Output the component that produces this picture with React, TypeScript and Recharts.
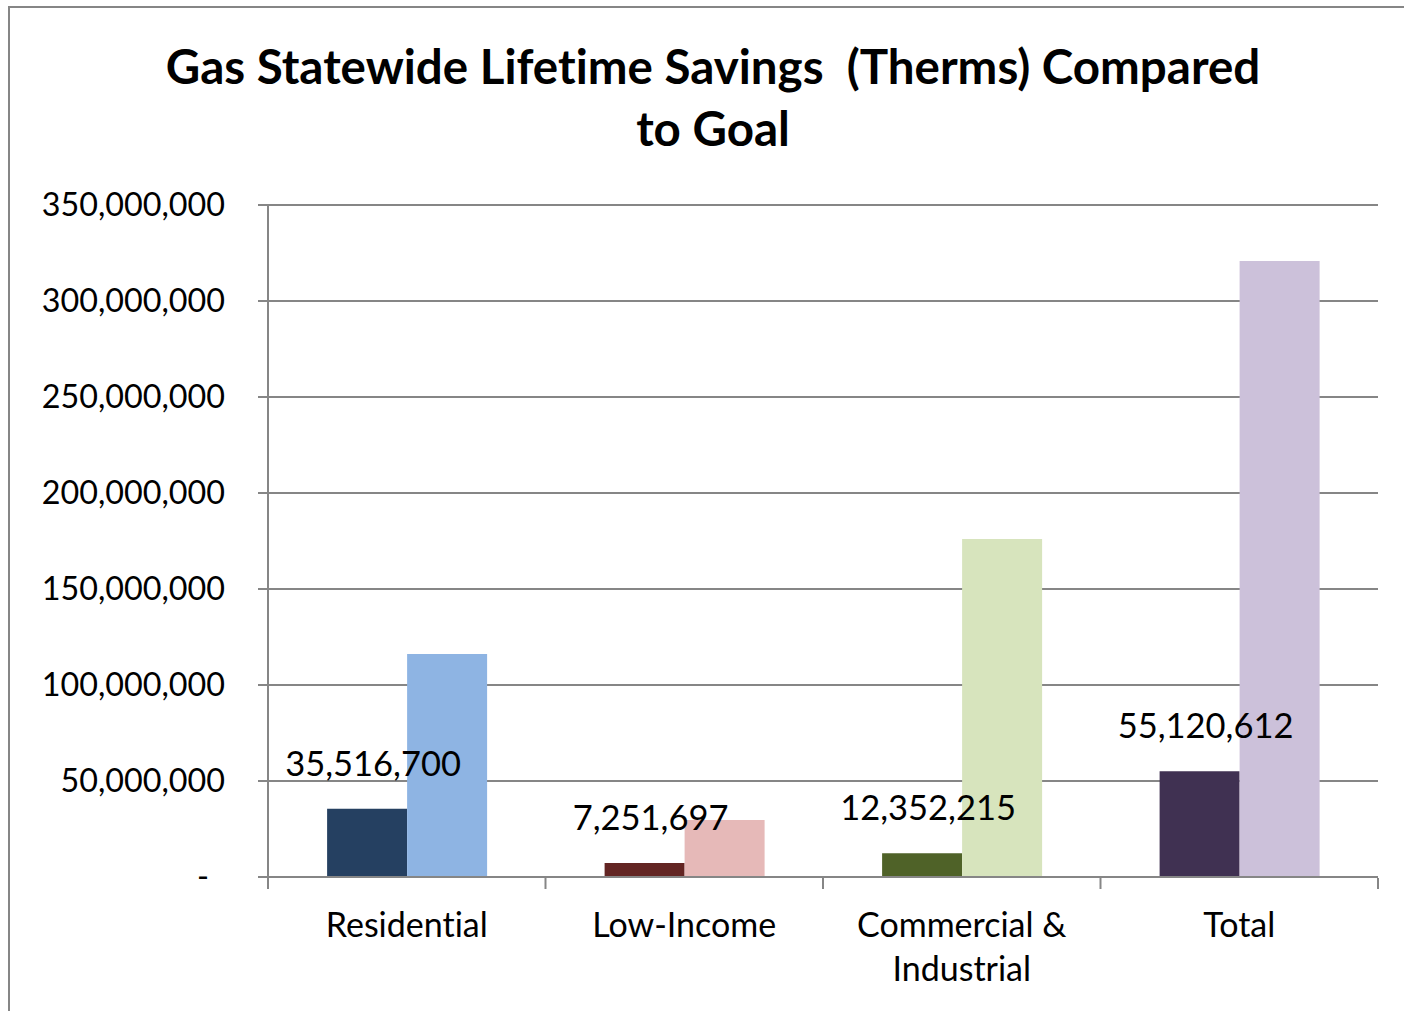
import React from "react";
import { BarChart, Bar, XAxis, YAxis, CartesianGrid, Cell, LabelList } from "recharts";

const categories = ["Residential", "Low-Income", "Commercial & Industrial", "Total"];
const actualSavings = [35516700, 7251697, 12352215, 55120612];
const goalSavings = [116100000, 29700000, 176000000, 320800000];
const actualColors = ["#254061", "#632523", "#4F6228", "#403152"];
const goalColors = ["#8EB4E3", "#E6B9B8", "#D7E4BD", "#CCC1DA"];
const yTicks = [0, 50000000, 100000000, 150000000, 200000000, 250000000, 300000000, 350000000];
const titleLines = ["Gas Statewide Lifetime Savings  (Therms) Compared", "to Goal"];

const data = categories.map((c, i) => ({
  name: c,
  actual: actualSavings[i],
  goal: goalSavings[i],
}));

const FONT = "Lato, 'Open Sans', sans-serif";
const GRAY = "#868686";
const PLOT_W = 1110;
const BAND = PLOT_W / categories.length;
const NOLIG: React.CSSProperties = { fontVariantLigatures: "none" };

const fmt = (v: number) => v.toLocaleString("en-US");

const wrap = (text: string, maxChars: number) => {
  const words = text.split(" ");
  const lines: string[] = [];
  let cur = "";
  words.forEach((w) => {
    const next = cur ? cur + " " + w : w;
    if (next.length > maxChars && cur) {
      lines.push(cur);
      cur = w;
    } else cur = next;
  });
  if (cur) lines.push(cur);
  return lines;
};

const YTick = (props: any) => {
  const { x, y, payload } = props;
  const v = payload.value;
  return (
    <text
      x={x}
      y={y}
      dx={v === 0 ? -16 : 0}
      dy={11}
      textAnchor="end"
      fontSize={32.3}
      fontFamily={FONT}
      fill="#000"
      style={NOLIG}
    >
      {v === 0 ? "-" : fmt(v)}
    </text>
  );
};

const XTick = (props: any) => {
  const { x, y, payload, index } = props;
  const lines = wrap(String(payload.value), 13);
  const left = x - BAND / 2;
  const right = x + BAND / 2;
  const axisY = y - 10;
  return (
    <g>
      <line x1={left} x2={left} y1={axisY - 1} y2={axisY + 10} stroke={GRAY} strokeWidth={2} />
      {index === categories.length - 1 && (
        <line x1={right} x2={right} y1={axisY - 1} y2={axisY + 10} stroke={GRAY} strokeWidth={2} />
      )}
      {lines.map((l, i) => (
        <text
          key={i}
          x={x}
          y={axisY + 58 + i * 44}
          textAnchor="middle"
          fontSize={34}
          fontFamily={FONT}
          fill="#000"
          style={NOLIG}
        >
          {l}
        </text>
      ))}
    </g>
  );
};

const ValueLabel = (props: any) => {
  const { x, y, width, value } = props;
  return (
    <text
      x={x + width / 2}
      y={y - 33}
      dx={6}
      textAnchor="middle"
      fontSize={34.5}
      fontFamily={FONT}
      fill="#000"
      style={NOLIG}
    >
      {fmt(value)}
    </text>
  );
};

export default function App() {
  return (
    <div
      style={{
        position: "absolute",
        left: 0,
        top: 0,
        width: 1404,
        height: 1011,
        overflow: "hidden",
        background: "#fff",
        fontFamily: FONT,
      }}
    >
      <div
        style={{
          position: "absolute",
          left: 8,
          top: 6,
          width: 1410,
          height: 1020,
          border: `2px solid ${GRAY}`,
          boxSizing: "border-box",
        }}
      />
      <div
        style={{
          position: "absolute",
          left: 0,
          top: 35,
          width: 1426,
          textAlign: "center",
          fontWeight: 700,
          fontSize: 47.5,
          lineHeight: "62px",
          whiteSpace: "pre",
          color: "#000",
          fontVariantLigatures: "none",
        }}
      >
        {titleLines.map((l, i) => (
          <div key={i}>{l}</div>
        ))}
      </div>
      <div style={{ position: "absolute", left: 0, top: 0 }}>
        <BarChart
          width={1404}
          height={1011}
          data={data}
          margin={{ top: 205, right: 26, bottom: 34, left: 0 }}
          barCategoryGap="21.3%"
          barGap={0}
        >
          <CartesianGrid vertical={false} stroke={GRAY} strokeWidth={2} />
          <XAxis
            dataKey="name"
            height={100}
            axisLine={{ stroke: GRAY, strokeWidth: 2 }}
            tickLine={false}
            tickSize={10}
            tick={<XTick />}
            interval={0}
          />
          <YAxis
            width={268}
            domain={[0, 350000000]}
            ticks={yTicks}
            interval={0}
            axisLine={{ stroke: GRAY, strokeWidth: 2 }}
            tickLine={{ stroke: GRAY, strokeWidth: 2 }}
            tickSize={10}
            tickMargin={33}
            tick={<YTick />}
          />
          <Bar dataKey="actual" isAnimationActive={false}>
            {data.map((d, i) => (
              <Cell key={i} fill={actualColors[i]} />
            ))}
            <LabelList dataKey="actual" content={<ValueLabel />} />
          </Bar>
          <Bar dataKey="goal" isAnimationActive={false}>
            {data.map((d, i) => (
              <Cell key={i} fill={goalColors[i]} />
            ))}
          </Bar>
        </BarChart>
      </div>
    </div>
  );
}
